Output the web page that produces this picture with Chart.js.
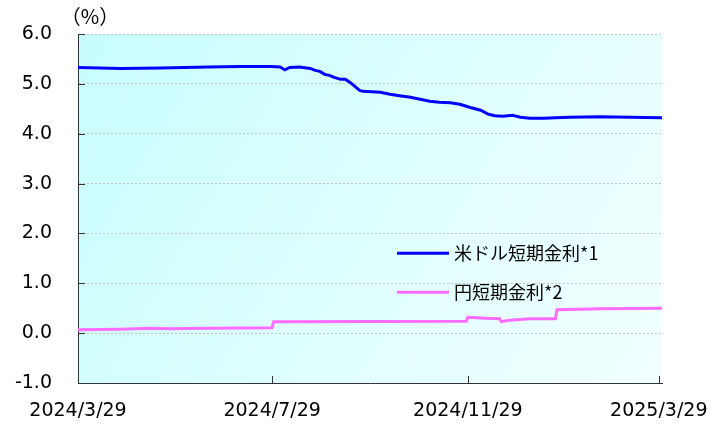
<!DOCTYPE html>
<html>
<head>
<meta charset="utf-8">
<script src="https://cdn.jsdelivr.net/npm/chart.js@4/dist/chart.umd.min.js"></script>
<style>
  html, body { margin: 0; padding: 0; background: #fff; }
  #wrap { width: 719px; height: 425px; }
</style>
</head>
<body>
<div id="wrap"><canvas id="chart" width="719" height="425"></canvas></div>
<script>
// days counted from 2024/3/29
const tickDays = [0, 122, 245, 365]
const tickLabels = ['2024/3/29', '2024/7/29', '2024/11/29', '2025/3/29']

const usdDays = [0, 27, 52, 82, 102, 121, 127, 130, 133, 139, 146, 149, 152, 155, 158, 161, 165, 168, 171, 174, 177, 179, 190, 196, 202, 209, 215, 221, 227, 234, 240, 246, 253, 258, 262, 267, 273, 278, 284, 293, 300, 309, 328, 347, 367]
const usdRates = [5.33, 5.31, 5.32, 5.34, 5.35, 5.35, 5.34, 5.28, 5.33, 5.34, 5.31, 5.27, 5.25, 5.19, 5.17, 5.13, 5.09, 5.09, 5.03, 4.95, 4.87, 4.85, 4.83, 4.79, 4.76, 4.73, 4.69, 4.65, 4.63, 4.62, 4.59, 4.53, 4.47, 4.39, 4.36, 4.35, 4.37, 4.33, 4.31, 4.31, 4.32, 4.33, 4.34, 4.33, 4.32]

const jpyDays = [0, 26, 45, 58, 83, 122, 123, 244, 245, 256, 265, 266, 271, 284, 300, 301, 328, 367]
const jpyRates = [0.07, 0.08, 0.10, 0.09, 0.10, 0.11, 0.23, 0.24, 0.32, 0.30, 0.29, 0.23, 0.26, 0.29, 0.29, 0.47, 0.49, 0.50]

const seriesNames = ['米ドル短期金利*1', '円短期金利*2']
const seriesColors = ['#0000ff', '#ff6cff']

const toPoints = (xs, ys) => xs.map((x, i) => ({ x: x, y: ys[i] }))

const plotBackground = {
    id: 'plotBackground',
    beforeDraw(chart) {
        const { ctx, chartArea: a } = chart
        const g = ctx.createLinearGradient(a.left, a.top, a.right, a.bottom)
        g.addColorStop(0, '#c8fdfd')
        g.addColorStop(1, '#f2ffff')
        ctx.save()
        ctx.fillStyle = g
        ctx.fillRect(a.left, a.top, a.right - a.left, a.bottom - a.top)
        ctx.restore()
    }
}

const extras = {
    id: 'extras',
    afterDraw(chart) {
        const { ctx, chartArea: a, scales } = chart
        ctx.save()
        // inward tick marks
        ctx.strokeStyle = '#333'
        ctx.lineWidth = 1
        ctx.beginPath()
        scales.y.ticks.forEach(t => {
            const y = Math.round(scales.y.getPixelForValue(t.value)) + 0.5
            ctx.moveTo(a.left, y)
            ctx.lineTo(a.left + 7, y)
        })
        tickDays.forEach(d => {
            const x = Math.round(scales.x.getPixelForValue(d)) + 0.5
            ctx.moveTo(x, a.bottom)
            ctx.lineTo(x, a.bottom - 7)
        })
        ctx.stroke()

        // unit label
        ctx.fillStyle = '#000'
        ctx.font = '20px "Noto Sans CJK JP"'
        ctx.textAlign = 'center'
        ctx.textBaseline = 'middle'
        ctx.fillText('（%）', a.left + 12, a.top - 18)

        // legend inside plot
        ctx.font = '18px "Noto Sans CJK JP"'
        ctx.textAlign = 'left'
        chart.data.datasets.forEach((ds, i) => {
            const y = scales.y.getPixelForValue(1.6 - i * 0.78)
            ctx.strokeStyle = ds.borderColor
            ctx.lineWidth = 3
            ctx.beginPath()
            ctx.moveTo(397, y)
            ctx.lineTo(449, y)
            ctx.stroke()
            ctx.fillStyle = '#000'
            ctx.fillText(ds.label, 454, y)
        })
        ctx.restore()
    }
}

new Chart(document.getElementById('chart').getContext('2d'), {
    type: 'line',
    data: {
        datasets: [
            {
                label: seriesNames[0],
                data: toPoints(usdDays, usdRates),
                borderColor: seriesColors[0],
                borderWidth: 3,
                pointRadius: 0,
                tension: 0
            },
            {
                label: seriesNames[1],
                data: toPoints(jpyDays, jpyRates),
                borderColor: seriesColors[1],
                borderWidth: 3,
                pointRadius: 0,
                tension: 0
            }
        ]
    },
    plugins: [plotBackground, extras],
    options: {
        responsive: false,
        animation: false,
        layout: { padding: { top: 34, right: 57, left: 0, bottom: 0 } },
        plugins: {
            legend: { display: false },
            tooltip: { enabled: false }
        },
        scales: {
            x: {
                type: 'linear',
                min: 0,
                max: 367,
                afterBuildTicks: scale => {
                    scale.ticks = tickDays.map(v => ({ value: v }))
                },
                afterFit: scale => {
                    scale.height = 42
                    scale.paddingLeft = 0
                    scale.paddingRight = 0
                },
                ticks: {
                    autoSkip: false,
                    maxRotation: 0,
                    padding: 17,
                    color: '#000',
                    font: { family: 'DejaVu Sans', size: 19 },
                    callback: v => tickLabels[tickDays.indexOf(v)]
                },
                grid: { drawOnChartArea: false, drawTicks: false },
                border: { color: '#333', width: 1 }
            },
            y: {
                min: -1,
                max: 6,
                afterFit: scale => {
                    scale.width = 78
                    scale.paddingTop = 0
                    scale.paddingBottom = 0
                },
                ticks: {
                    stepSize: 1,
                    padding: 26,
                    color: '#000',
                    font: { family: 'DejaVu Sans', size: 19 },
                    callback: v => v.toFixed(1)
                },
                grid: { color: '#c4c4c4', drawTicks: false },
                border: { color: '#333', width: 1, dash: [2, 2] }
            }
        }
    }
});
</script>
</body>
</html>
